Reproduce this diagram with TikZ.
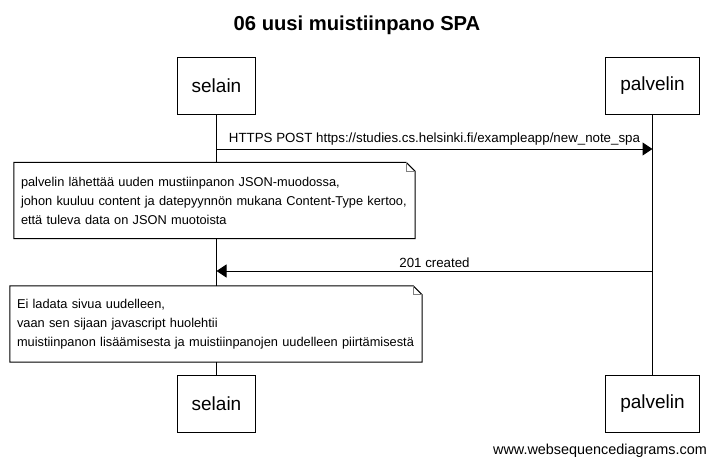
\documentclass[tikz,border=0pt]{standalone}
\usepackage{fontspec}
\setmainfont{Liberation Sans}
\usetikzlibrary{arrows.meta}

\tikzset{
  actor/.style={draw, line width=1pt, minimum height=57pt, inner xsep=14.5pt,
    font=\fontsize{19}{22}\selectfont},
  notebox/.style={fill=white, align=left, inner xsep=7pt, inner ysep=0pt,
    font=\fontsize{12.8}{19}\selectfont},
  msg/.style={line width=1pt, -{Triangle[length=10pt,width=13pt]}},
  msglabel/.style={above, inner sep=3pt, font=\fontsize{13.3}{15}\selectfont},
}

\begin{document}
\begin{tikzpicture}[x=1pt, y=-1pt]
  \useasboundingbox (0,0) rectangle (714,466);

  % title
  \node (title) at (357,25) {\fontsize{20.2}{24}\selectfont\bfseries 06 uusi muistiinpano SPA};

  % participants
  \node[actor] (selainTop) at (216.5,85.5) {selain};
  \node[actor] (palvelinTop) at (652.5,85.5) {palvelin};
  \node[actor] (selainBot) at (216.5,403.5) {selain};
  \node[actor] (palvelinBot) at (652.5,403.5) {palvelin};

  % lifelines
  \draw[line width=1pt] (selainTop) -- (selainBot);
  \draw[line width=1pt] (palvelinTop) -- (palvelinBot);

  % message points on the lifelines
  \coordinate (post1) at (selainTop |- 0,149);
  \coordinate (post2) at (palvelinTop |- 0,149);
  \coordinate (resp1) at (palvelinTop |- 0,271);
  \coordinate (resp2) at (selainTop |- 0,271);

  % messages
  \draw[msg] (post1) -- (post2)
    node[midway, msglabel] {HTTPS POST https://studies.cs.helsinki.fi/exampleapp/new\_note\_spa};
  \draw[msg] (resp1) -- (resp2) node[midway, msglabel] {201 created};

  % notes
  \node[notebox, minimum width=401pt, minimum height=76pt, text width=387pt]
    (noteA) at (214.5,200.5) {\mbox{palvelin lähettää uuden mustiinpanon JSON-muodossa,}\\
    \mbox{johon kuuluu content ja datepyynnön mukana Content-Type kertoo,}\\
    \mbox{että tuleva data on JSON muotoista}};
  \node[notebox, minimum width=412pt, minimum height=76pt, text width=398pt]
    (noteB) at (216,324) {\mbox{Ei ladata sivua uudelleen,}\\
    \mbox{vaan sen sijaan javascript huolehtii}\\
    \mbox{muistiinpanon lisäämisesta ja muistiinpanojen uudelleen piirtämisestä}};

  % folded corners
  \foreach \n in {noteA, noteB} {
    \draw[line width=1pt] (\n.north west) -- ([xshift=-9pt]\n.north east)
      -- ([yshift=-9pt]\n.north east) -- (\n.south east) -- (\n.south west) -- cycle;
    \draw[line width=1pt, gray] ([xshift=-9pt]\n.north east)
      -- ([xshift=-9pt, yshift=-9pt]\n.north east) -- ([yshift=-9pt]\n.north east);
  }

  % watermark
  \node[anchor=east, inner sep=0pt, font=\fontsize{14.4}{16}\selectfont]
    (site) at (707,451) {www.websequencediagrams.com};
\end{tikzpicture}
\end{document}
